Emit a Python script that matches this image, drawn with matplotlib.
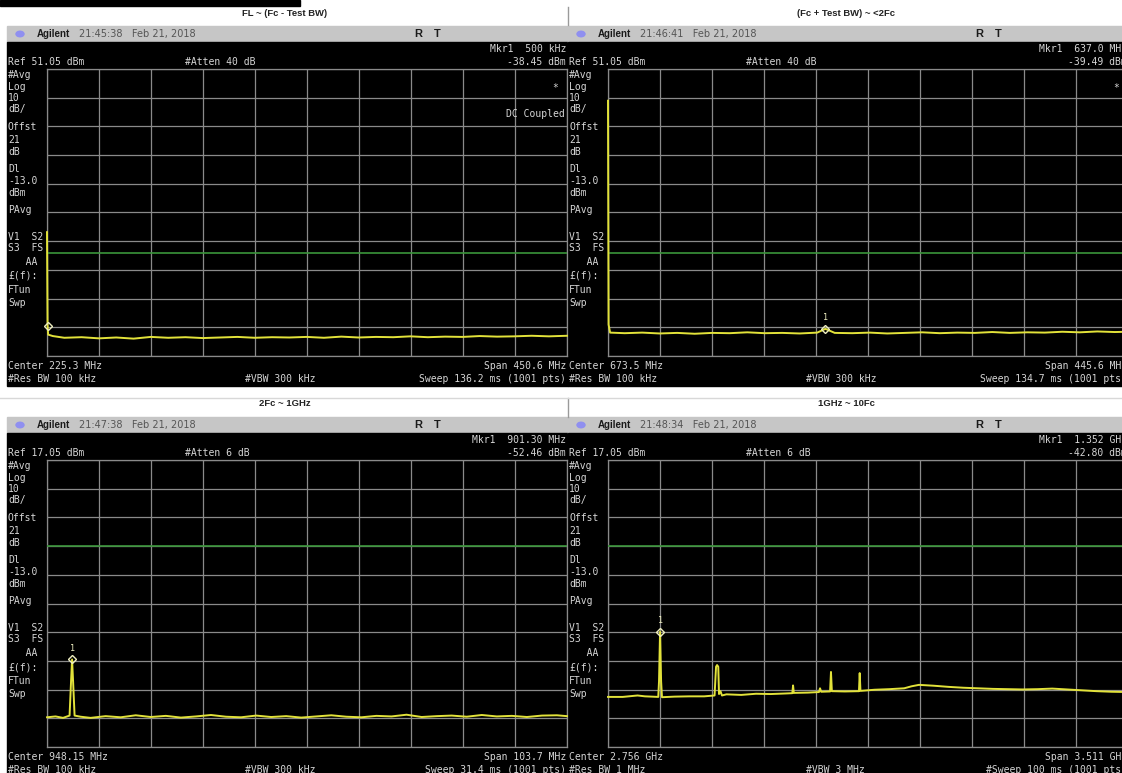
import numpy as np
import matplotlib.pyplot as plt
from matplotlib.patches import Rectangle, Circle

W, H = 1122, 773

# panel texts
titles = ['FL ~ (Fc - Test BW)', '(Fc + Test BW) ~ <2Fc', '2Fc ~ 1GHz', '1GHz ~ 10Fc']
times = ['21:45:38', '21:46:41', '21:47:38', '21:48:34']
ref_levels = [51.05, 51.05, 17.05, 17.05]
attens = ['#Atten 40 dB', '#Atten 40 dB', '#Atten 6 dB', '#Atten 6 dB']
mkr_freq_txt = ['Mkr1  500 kHz', 'Mkr1  637.0 MHz', 'Mkr1  901.30 MHz', 'Mkr1  1.352 GHz']
mkr_level_txt = ['-38.45 dBm', '-39.49 dBm', '-52.46 dBm', '-42.80 dBm']
centers = ['Center 225.3 MHz', 'Center 673.5 MHz', 'Center 948.15 MHz', 'Center 2.756 GHz']
spans = ['Span 450.6 MHz', 'Span 445.6 MHz', 'Span 103.7 MHz', 'Span 3.511 GHz']
rbws = ['#Res BW 100 kHz', '#Res BW 100 kHz', '#Res BW 100 kHz', '#Res BW 1 MHz']
vbws = ['#VBW 300 kHz', '#VBW 300 kHz', '#VBW 300 kHz', '#VBW 3 MHz']
sweeps = ['Sweep 136.2 ms (1001 pts)', 'Sweep 134.7 ms (1001 pts)',
          'Sweep 31.4 ms (1001 pts)', '#Sweep 100 ms (1001 pts)']
left_labels = ['#Avg', 'Log', '10', 'dB/', 'Offst', '21', 'dB', 'Dl', '-13.0', 'dBm', 'PAvg',
               'V1  S2', 'S3  FS', '   AA', '£(f):', 'FTun', 'Swp']
left_label_y = [75, 87, 98, 109, 127, 140, 152, 169, 181, 193, 210, 237, 248, 262, 276, 290, 303]

f_start = [0.0, 450.7, 896.3, 1.0005]
f_stop = [450.6, 896.3, 1000.0, 4.5115]
mkr_f = [0.5, 637.0, 901.3, 1.352]
mkr_dbm = [-38.45, -39.49, -52.46, -42.80]
display_line = -13.0

# traces (MHz / GHz, dBm)
f1 = [0, 0.5, 1.0, 5, 15, 30, 45, 60, 75, 90, 105, 120, 135, 150, 165, 180, 195, 210, 225,
      240, 255, 270, 285, 300, 315, 330, 345, 360, 375, 390, 405, 420, 435, 450.6]
p1 = [-5.8, -38.45, -41.5, -42.0, -42.6, -42.4, -42.8, -42.5, -42.9, -42.3, -42.6, -42.4,
      -42.7, -42.5, -42.3, -42.6, -42.4, -42.5, -42.3, -42.6, -42.2, -42.5, -42.3, -42.4,
      -42.1, -42.4, -42.2, -42.3, -42.0, -42.2, -42.1, -41.9, -42.1, -41.9]

f2 = [450.7, 451.2, 452.5, 465, 480, 495, 510, 525, 540, 555, 570, 585, 600, 615, 630, 637.0,
      645, 660, 675, 690, 705, 720, 735, 750, 765, 780, 795, 810, 825, 840, 855, 870, 885, 896.3]
p2 = [40.0, -38.0, -40.8, -41.0, -40.8, -41.1, -40.9, -41.2, -40.9, -41.0, -40.7, -41.0, -40.9,
      -41.1, -40.8, -39.49, -40.9, -41.0, -40.8, -41.1, -40.9, -40.7, -41.0, -40.8, -40.9,
      -40.6, -40.9, -40.7, -40.8, -40.5, -40.7, -40.4, -40.6, -40.5]

f3 = [896.3, 898, 899.5, 900.8, 901.1, 901.3, 901.5, 901.8, 903, 905, 908, 911, 914, 917, 920,
      923, 926, 929, 932, 935, 938, 941, 944, 947, 950, 953, 956, 959, 962, 965, 968, 971, 974,
      977, 980, 983, 986, 989, 992, 995, 998, 1000]
p3 = [-72.6, -72.3, -72.8, -72.0, -60.0, -52.46, -60.0, -72.0, -72.4, -72.8, -72.2, -72.6,
      -71.9, -72.5, -72.1, -72.7, -72.3, -71.8, -72.4, -72.6, -72.0, -72.5, -72.2, -72.7,
      -72.3, -71.9, -72.4, -72.6, -72.1, -72.3, -71.7, -72.5, -72.2, -72.0, -72.4, -71.8,
      -72.3, -72.1, -72.5, -72.0, -71.9, -72.2]

f4 = [1.0005, 1.1, 1.2, 1.25, 1.34, 1.345, 1.352, 1.359, 1.365, 1.45, 1.55, 1.65, 1.72, 1.73,
      1.737, 1.745, 1.75, 1.76, 1.77, 1.8, 1.9, 2.0, 2.1, 2.2, 2.245, 2.25, 2.255, 2.35, 2.425,
      2.432, 2.44, 2.5, 2.506, 2.512, 2.6, 2.695, 2.70, 2.705, 2.8, 2.9, 3.0, 3.05, 3.1, 3.2,
      3.3, 3.4, 3.5, 3.6, 3.7, 3.8, 3.9, 4.0, 4.1, 4.2, 4.3, 4.4, 4.5115]
p4 = [-65.5, -65.5, -65.0, -65.3, -65.5, -60.0, -42.8, -60.0, -65.6, -65.4, -65.3, -65.3,
      -65.0, -55.0, -54.4, -55.0, -64.5, -63.5, -65.0, -64.6, -64.8, -64.4, -64.5, -64.3,
      -64.2, -61.5, -64.1, -64.0, -63.8, -62.5, -63.7, -63.6, -56.8, -63.5, -63.6, -63.5,
      -57.2, -63.4, -63.0, -62.8, -62.5, -61.8, -61.3, -61.6, -62.0, -62.3, -62.5, -62.7,
      -62.8, -62.9, -62.8, -62.6, -62.9, -63.2, -63.5, -63.7, -63.8]

freqs = [f1, f2, f3, f4]
levels = [p1, p2, p3, p4]
origins = [(0, 0), (561, 0), (0, 391), (561, 391)]

SCREEN_TXT = '#d6d6d6'
GRID = '#8a8a8a'
TRACE = '#e2e23a'
MONO = 'DejaVu Sans Mono'


def fx(x):
    return x / W


def fy(y):
    return 1 - y / H


def put(x, y, s, **kw):
    kw.setdefault('va', 'center')
    kw.setdefault('zorder', 5)
    return fig.text(fx(x), fy(y), s, **kw)


def rect(x0, y0, x1, y1, color):
    fig.patches.append(Rectangle((fx(x0), fy(y1)), fx(x1 - x0), (y1 - y0) / H,
                                 transform=fig.transFigure, color=color, zorder=-5))


fig = plt.figure(figsize=(W / 100, H / 100), dpi=100)
fig.patch.set_facecolor('white')

# bits of page around the screenshots
rect(0, 0, 300, 6, 'black')
fig.add_artist(plt.Line2D([fx(568), fx(568)], [fy(7), fy(25)], color='#9a9a9a', lw=1))
fig.add_artist(plt.Line2D([fx(568), fx(568)], [fy(398), fy(417)], color='#9a9a9a', lw=1))
fig.add_artist(plt.Line2D([0, 1], [fy(398), fy(398)], color='#d8d8d8', lw=1))

for i in range(4):
    ox, oy = origins[i]
    ref = ref_levels[i]

    put(ox + 285, oy + 13, titles[i], ha='center', family='Liberation Sans',
        weight='bold', fontsize=6.8, color='#222222')

    # header bar
    rect(ox + 7, oy + 26, ox + 567, oy + 42, '#c6c6c6')
    fig.add_artist(Circle((fx(ox + 20), fy(oy + 34)), 4 / W, transform=fig.transFigure,
                          color='#8f8ff0', zorder=3))
    put(ox + 37, oy + 34, 'Agilent', family='Liberation Sans', weight='bold',
        fontsize=7, color='#1a1a1a')
    put(ox + 79, oy + 34, times[i] + '   Feb 21, 2018', family='DejaVu Sans',
        fontsize=7, color='#555555')
    put(ox + 414, oy + 34, 'R', family='Liberation Sans', weight='bold', fontsize=8, color='#1a1a1a')
    put(ox + 434, oy + 34, 'T', family='Liberation Sans', weight='bold', fontsize=8, color='#1a1a1a')

    # screen
    rect(ox + 7, oy + 42, ox + 568, oy + 386, 'black')
    txt = dict(family=MONO, fontsize=7, color=SCREEN_TXT)
    put(ox + 566, oy + 49, mkr_freq_txt[i], ha='right', **txt)
    put(ox + 566, oy + 62, mkr_level_txt[i], ha='right', **txt)
    put(ox + 8, oy + 62, 'Ref %.2f dBm' % ref, **txt)
    put(ox + 185, oy + 62, attens[i], **txt)
    for lab, ly in zip(left_labels, left_label_y):
        put(ox + 8, oy + ly, lab, **txt)
    put(ox + 8, oy + 366, centers[i], **txt)
    put(ox + 8, oy + 379, rbws[i], **txt)
    put(ox + 245, oy + 379, vbws[i], **txt)
    put(ox + 566, oy + 366, spans[i], ha='right', **txt)
    put(ox + 566, oy + 379, sweeps[i], ha='right', **txt)
    if i < 2:
        put(ox + 555, oy + 88, '*', ha='center', **txt)
    if i == 0:
        put(ox + 565, oy + 114, 'DC Coupled', ha='right', **txt)

    # graticule
    gl, gr, gt, gb = ox + 47, ox + 567, oy + 69, oy + 356
    ax = fig.add_axes([fx(gl), fy(gb), (gr - gl) / W, (gb - gt) / H])
    ax.set_facecolor('black')
    ax.set_xlim(f_start[i], f_stop[i])
    ax.set_ylim(ref - 100, ref)
    ax.set_xticks(np.linspace(f_start[i], f_stop[i], 11))
    ax.set_yticks(np.linspace(ref - 100, ref, 11))
    ax.tick_params(length=0, labelbottom=False, labelleft=False)
    ax.grid(color=GRID, lw=0.9)
    for sp in ax.spines.values():
        sp.set_color(GRID)
        sp.set_linewidth(0.9)
    ax.axhline(display_line, color='#3a953a', lw=1.2, zorder=3)
    ax.plot(freqs[i], levels[i], color=TRACE, lw=1.4, zorder=4, clip_on=False)
    ax.plot([mkr_f[i]], [mkr_dbm[i]], marker='D', ms=4, mfc='none', mec='#eeeec0',
            mew=1, zorder=5, clip_on=False)
    if i > 0:
        ax.annotate('1', (mkr_f[i], mkr_dbm[i]), xytext=(0, 8), textcoords='offset points',
                    ha='center', va='center', fontsize=6, family=MONO, color='#eeeec0')

fig.savefig('out.png', dpi=100)
